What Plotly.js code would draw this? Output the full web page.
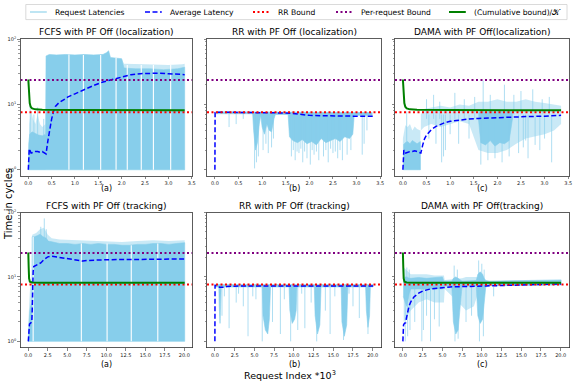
<!DOCTYPE html>
<html><head><meta charset="utf-8">
<script src="https://cdn.plot.ly/plotly-3.0.1.min.js"></script>
<style>html,body{margin:0;padding:0;background:#fff}#chart{width:581px;height:388px}</style>
</head><body><div id="chart"></div>
<script>
// ---------------- data (x in thousands of requests, y in cycles) ----------------
const panelTitles = ["FCFS with PF Off (localization)", "RR with PF Off (localization)", "DAMA with PF Off(localization)",
                     "FCFS with PF Off (tracking)", "RR with PF Off (tracking)", "DAMA with PF Off(tracking)"];
const panelLetters = ["(a)", "(b)", "(c)", "(a)", "(b)", "(c)"];
const legendNames = ["Request Latencies", "Average Latency", "RR Bound", "Per-request Bound", "(Cumulative bound)/𝒦"];
const locTickVals = [0, 0.5, 1, 1.5, 2, 2.5, 3, 3.5];
const locTickText = ["0.0", "0.5", "1.0", "1.5", "2.0", "2.5", "3.0", "3.5"];
const trkTickVals = [0, 2.5, 5, 7.5, 10, 12.5, 15, 17.5, 20];
const trkTickText = ["0.0", "2.5", "5.0", "7.5", "10.0", "12.5", "15.0", "17.5", "20.0"];
const yTickVals = [1, 10, 100];
const yTickText = ["10<sup>0</sup>", "10<sup>1</sup>", "10<sup>2</sup>"];
const yMinorVals = [2,3,4,5,6,7,8,9,20,30,40,50,60,70,80,90];

const rrBound = 7.6;
const perRequestBound = 23.5;

// (1) FCFS localization
const p1BandX  = [0, 0.01, 0.03, 0.08, 0.15, 0.22, 0.3, 0.37, 0.38, 0.45, 0.6, 0.8, 1.0, 1.2, 1.4, 1.6, 1.68, 1.72, 1.76, 1.9, 2.0, 2.05, 2.3, 2.6, 2.9, 3.2, 3.35];
const p1BandLo = [1, 1, 1, 1, 1, 1, 1, 1, 1, 1, 1, 1, 1, 1, 1, 1, 1, 1, 1, 1, 1, 1, 1, 1, 1, 1, 1];
const p1BandHi = [1.0, 2.5, 3.5, 3.8, 3.6, 3.4, 3.3, 3.5, 55, 58, 57, 58, 57, 58, 57, 58, 62, 66, 52, 51, 50, 36, 35, 35, 34, 35, 37];
const p1LightX  = [0, 0.02, 0.06, 0.1, 0.15, 0.2, 0.25, 0.3, 0.37, null, 2.0, 2.05, 2.5, 3.0, 3.3, 3.35];
const p1LightLo = [1, 1, 1, 1, 1, 1, 1, 1, 1, null, 35, 35, 35, 34, 35, 37];
const p1LightHi = [1, 5, 8, 6, 5, 7, 5, 4.5, 5, null, 50, 42, 41, 40, 41, 42];
const p1SpikeX  = [0.04, 0.12, 0.2, 0.33];
const p1SpikeLo = [3, 3, 3, 3];
const p1SpikeHi = [10, 7, 9, 6];
const p1GapX  = [0.87, 1.18, 1.55, 1.88, 2.12, 2.42, 2.68, 3.05];
const p1GapLo = [1, 1, 1, 1, 1, 1, 1, 1];
const p1GapHi = [58, 57, 57, 51, 40, 40, 40, 40];
const p1AvgX = [0, 0.005, 0.02, 0.06, 0.1, 0.15, 0.2, 0.25, 0.3, 0.35, 0.38, 0.42, 0.46, 0.5, 0.54, 0.58, 0.65, 0.75, 0.85, 1.0, 1.2, 1.4, 1.6, 1.8, 2.0, 2.2, 2.4, 2.6, 2.8, 3.0, 3.2, 3.35];
const p1AvgY = [1, 1.7, 2.1, 1.8, 1.85, 1.9, 1.9, 1.85, 1.9, 1.8, 1.75, 2.8, 4.2, 6, 7.8, 9.3, 10.5, 11.8, 13, 14.5, 17, 19.5, 22, 24, 26.5, 28.5, 29.5, 30, 30, 29.5, 29, 28.5];

// (2) RR localization
const p2BandX  = [0.02, 0.8, 0.82, 0.86, 0.9, 0.94, 0.97, 1.0, 1.05, 1.1, 1.15, 1.2, 1.25, 1.28, 1.55, 1.58, 1.65, 1.75, 1.85, 1.95, 2.05, 2.15, 2.25, 2.35, 2.45, 2.55, 2.65, 2.75, 2.85, 2.92, 2.95, 3.33];
const p2BandLo = [7.2, 7.2, 4, 2.0, 2.6, 5, 6.8, 4.5, 3.5, 5, 4, 3.8, 6, 7, 7, 3.2, 2.8, 2.6, 2.9, 2.5, 2.7, 2.4, 3, 2.6, 2.8, 3.0, 2.7, 3.2, 3.0, 3.5, 6.8, 6.8];
const p2BandHi = [7.7, 7.7, 7.7, 7.7, 7.7, 7.7, 7.7, 7.7, 7.7, 7.7, 7.7, 7.7, 7.7, 7.7, 7.7, 7.5, 7.5, 7.5, 7.5, 7.5, 7.5, 7.5, 7.5, 7.5, 7.5, 7.5, 7.5, 7.5, 7.5, 7.5, 7.5, 7.5];
const p2SpikeX  = [0.3, 0.45, 0.6, 0.84, 0.88, 0.92, 1.02, 1.08, 1.13, 1.2, 1.24, 1.62, 1.66, 1.7, 1.74, 1.78, 1.82, 1.86, 1.9, 1.95, 2.02, 2.06, 2.1, 2.15, 2.2, 2.3, 2.35, 2.4, 2.45, 2.5, 2.55, 2.6, 2.65, 2.7, 2.8, 2.88, 3.12, 3.16, 3.22];
const p2SpikeLo = [4.5, 5.0, 6.0, 1.05, 1.3, 1.6, 2.0, 2.5, 1.8, 2.2, 3.0, 1.6, 2.0, 1.4, 1.9, 1.8, 2.1, 1.3, 1.9, 1.5, 1.2, 2.0, 1.7, 1.9, 1.4, 1.6, 2.0, 1.3, 2.1, 1.8, 1.9, 1.5, 2.0, 1.4, 1.7, 2.0, 1.7, 2.5, 4.0];
const p2SpikeHi = [7.5, 7.5, 7.5, 7.5, 7.5, 7.5, 7.5, 7.5, 7.5, 7.5, 7.5, 7.5, 7.5, 7.5, 7.5, 7.5, 7.5, 7.5, 7.5, 7.5, 7.5, 7.5, 7.5, 7.5, 7.5, 7.5, 7.5, 7.5, 7.5, 7.5, 7.5, 7.5, 7.5, 7.5, 7.5, 7.5, 7.5, 7.5, 7.5];
const p2AvgX = [0, 0.004, 0.05, 0.5, 1.0, 1.4, 1.6, 1.8, 2.0, 2.3, 2.6, 3.0, 3.35];
const p2AvgY = [1, 7.5, 7.6, 7.6, 7.5, 7.4, 7.3, 7.0, 6.8, 6.7, 6.6, 6.6, 6.6];

// (3) DAMA localization
const p3BandX  = [0.01, 0.05, 0.1, 0.15, 0.2, 0.25, 0.3, 0.37, null, 1.6, 1.65, 1.75, 1.85, 1.95, 2.05, 2.15, 2.25, 2.32];
const p3BandLo = [1, 1, 1, 1, 1, 1, 1, 1, null, 6, 2.6, 2.4, 2.8, 2.3, 2.6, 2.5, 2.8, 6];
const p3BandHi = [2.4, 2.6, 2.7, 2.5, 2.8, 2.6, 2.5, 2.7, null, 7.5, 7.8, 7.6, 7.8, 7.6, 7.8, 7.6, 7.8, 7.5];
const p3LightX  = [0, 0.05, 0.1, 0.15, 0.2, 0.25, 0.3, 0.37, null, 0.38, 0.45, 0.6, 0.8, 1.0, 1.2, 1.4, 1.6, 1.8, 2.0, 2.2, 2.4, 2.6, 2.8, 3.0, 3.2, 3.35];
const p3LightLo = [1, 1, 1, 1, 1, 1, 1, 1, null, 4, 4.5, 5, 4.5, 5, 5.5, 5, 2.0, 1.8, 1.8, 2.0, 2.5, 3, 3.2, 3.5, 4, 5];
const p3LightHi = [3, 4.8, 4.5, 5, 4, 4.6, 4.2, 4.0, null, 7, 8.5, 9, 9.5, 9, 10, 9.5, 11, 11, 12, 11, 11, 12, 11, 10.5, 10, 9.5];
const p3SpikeX  = [0.08, 0.5, 0.65, 0.78, 1.1, 1.3, 1.52, 1.7, 1.85, 2.15, 2.35, 2.5, 2.75, 2.95, 3.1, 0.82, 0.86, 0.9, 1.18, 1.65, 1.8, 1.95, 2.1, 2.25, 2.45, 2.65, 2.9, 3.15, 0.55, 0.7, 1.0, 1.4, 2.55, 2.6, 2.8, 3.0];
const p3SpikeLo = [2, 6, 6, 6, 6, 6, 6, 7, 7, 7, 7, 7, 7, 7, 7, 1.3, 1.6, 2.0, 2.5, 1.2, 1.4, 1.5, 1.3, 1.6, 1.8, 1.5, 2.0, 1.3, 3.0, 2.5, 3.5, 3.0, 2.2, 2.8, 2.4, 3.0];
const p3SpikeHi = [7.8, 12, 14, 11, 15, 12, 13, 23, 14, 20, 14, 16, 17, 12, 13, 7, 7, 7, 7, 7, 7, 7, 7, 7, 7, 7, 7, 7, 7, 7, 7, 7, 7, 7, 7, 7];
const p3AvgX = [0, 0.005, 0.02, 0.06, 0.1, 0.15, 0.2, 0.25, 0.3, 0.35, 0.38, 0.42, 0.46, 0.5, 0.6, 0.7, 0.8, 0.9, 1.0, 1.2, 1.4, 1.6, 1.8, 2.0, 2.3, 2.6, 3.0, 3.35];
const p3AvgY = [1, 1.6, 2.0, 1.8, 1.85, 1.9, 1.9, 1.95, 1.9, 1.85, 1.8, 2.4, 3.0, 3.4, 4.1, 4.6, 5.0, 5.3, 5.5, 5.8, 6.0, 6.1, 6.2, 6.3, 6.4, 6.5, 6.6, 6.8];

// (4) FCFS tracking
const p4BandX  = [0, 0.1, 0.2, 0.3, 0.45, 0.5, 0.8, 1.2, 1.5, 1.9, 2.3, 2.6, 3, 3.5, 4, 5, 6, 7, 8, 9, 10, 11, 12, 13, 14, 15, 16, 17, 18, 19, 20.05];
const p4BandLo = [1, 1, 1, 1, 1, 1, 1, 1, 1, 1, 1, 1, 1, 1, 1, 1, 1, 1, 1, 1, 1, 1, 1, 1, 1, 1, 1, 1, 1, 1, 1];
const p4BandHi = [1, 2, 3, 3.5, 4, 42, 42, 44, 46, 42, 40, 36, 35, 34, 33, 33, 32, 33, 32, 33, 32, 32, 31, 31, 32, 32, 33, 33, 32, 33, 34];
const p4LightX  = [0, 0.1, 0.2, 0.3, 0.45, null, 0.5, 1, 1.5, 2, 2.5, 3, 4, 6, 8, 10, 12, 14, 16, 18, 20.05];
const p4LightLo = [1, 1, 1, 1, 1, null, 40, 40, 42, 40, 38, 34, 32, 31, 31, 31, 30, 30, 31, 31, 32];
const p4LightHi = [2, 4, 6, 8, 9, null, 45, 48, 55, 58, 45, 40, 38, 37, 36, 36, 35, 36, 37, 36, 37];
const p4SpikeX  = [1.6, 2.05, 2.3];
const p4SpikeLo = [40, 40, 40];
const p4SpikeHi = [60, 81, 55];
const p4GapX  = [0.62, 6.8, 10.1, 13.2, 16.6];
const p4GapLo = [1, 1, 1, 1, 1];
const p4GapHi = [42, 33, 33, 31, 33];
const p4AvgX = [0, 0.03, 0.08, 0.15, 0.25, 0.35, 0.45, 0.5, 0.55, 0.62, 0.7, 0.9, 1.2, 1.6, 2.0, 2.5, 3.0, 3.5, 4.0, 5.0, 6.0, 6.6, 7.0, 7.5, 8.5, 10, 12, 14, 16, 18, 20.05];
const p4AvgY = [1, 1.2, 1.7, 1.85, 1.9, 1.95, 2.0, 3.0, 7.0, 12, 14.5, 15, 15.5, 16.5, 18.5, 20.5, 21, 20.5, 20, 19, 18, 17.5, 17.6, 18, 18.3, 18.5, 18.6, 18.8, 19, 19, 19];

// (5) RR tracking
const p5BandX  = [0.05, 0.5, 0.55, 0.65, 0.75, 0.8, 6.0, 6.1, 6.4, 6.7, 6.9, 7.05, 9.4, 9.5, 9.8, 10.1, 10.3, 10.4, 12.6, 12.7, 13.0, 13.3, 13.45, 16.0, 16.1, 16.4, 16.7, 16.85, 19.1, 19.2, 19.4, 19.6, 19.7, 20.05];
const p5BandLo = [7.0, 7.0, 3.5, 1.9, 3.0, 7.0, 7.0, 2.5, 1.5, 1.3, 2.2, 7.0, 7.0, 3.0, 1.9, 2.2, 3.0, 7.0, 7.0, 2.5, 1.3, 1.8, 7.0, 7.0, 2.0, 1.2, 1.8, 7.0, 7.0, 3.0, 1.65, 2.5, 7.0, 7.0];
const p5BandHi = [7.6, 7.6, 7.6, 7.6, 7.6, 7.6, 7.6, 7.6, 7.6, 7.6, 7.6, 7.6, 7.6, 7.6, 7.6, 7.6, 7.6, 7.6, 7.6, 7.6, 7.6, 7.6, 7.6, 7.6, 7.6, 7.6, 7.6, 7.6, 7.6, 7.6, 7.6, 7.6, 7.6, 7.6];
const p5SpikeX  = [0.9, 1.8, 2.7, 3.6, 4.2, 5.2, 6.0, 7.3, 8.3, 9.6, 10.5, 11.4, 12.9, 14.0, 14.6, 16.3, 17.5, 18.3, 19.4, 1.2, 3.0, 4.8, 8.8, 11.0, 12.2, 15.2, 17.0];
const p5SpikeLo = [2.5, 1.6, 4, 3.5, 1.2, 4.5, 1.0, 2.0, 1.3, 1.0, 1.5, 1.6, 1.0, 3, 1.3, 1.05, 3.5, 2.3, 1.3, 5.0, 5.5, 5.0, 4.5, 5.5, 4.0, 5.0, 5.5];
const p5SpikeHi = [7.4, 7.4, 7.4, 7.4, 7.4, 7.4, 7.4, 7.4, 7.4, 7.4, 7.4, 7.4, 7.4, 7.4, 7.4, 7.4, 7.4, 7.4, 7.4, 7.4, 7.4, 7.4, 7.4, 7.4, 7.4, 7.4, 7.4];
const p5AvgX = [0, 0.02, 0.3, 0.6, 1.0, 1.5, 3, 6, 10, 14, 18, 20.05];
const p5AvgY = [1, 7.4, 7.3, 6.9, 6.9, 7.1, 7.2, 7.2, 7.2, 7.2, 7.2, 7.2];

// (6) DAMA tracking
const p6BandX  = [0.05, 0.3, 0.5, 0.8, 1.0, 2.0, 3.0, 4.0, 5.0, 5.2, 6.2, 6.4, 6.7, 7.0, 7.3, 7.5, 9.3, 9.5, 9.8, 10.1, 10.3, 10.5, 11, 15, 20.05];
const p6BandLo = [5.0, 4.0, 3.5, 5.5, 6.5, 6.5, 6.5, 6.5, 6.5, 7.2, 7.2, 2.0, 1.3, 1.5, 4.0, 7.2, 7.2, 2.5, 1.9, 2.2, 3.5, 7.0, 7.3, 7.4, 7.5];
const p6BandHi = [9.0, 10, 10, 9.5, 9.5, 9.8, 9.5, 9.8, 10, 8.6, 8.6, 9.5, 10, 9.5, 9, 8.6, 8.8, 11, 12, 11, 9.5, 8.8, 8.6, 8.7, 9.0];
const p6LightX  = [0.1, 1, 2, 3, 4, 5.2, 5.3, 7.5, 8, 9, 9.4];
const p6LightLo = [2, 3, 4, 4.5, 4, 4, 6.5, 3.5, 3, 3.5, 5];
const p6LightHi = [14, 11, 11, 11, 10.5, 10.5, 9, 9.5, 10, 10, 10];
const p6SpikeX  = [0.5, 0.8, 6.5, 6.9, 9.6, 10.0, 10.3, 0.3, 0.6, 0.9, 2.4, 2.6, 3.5, 4.6, 6.6, 7.0, 8.0, 8.7, 9.7, 10.2, 11.5, 1.5, 3.0, 4.0];
const p6SpikeLo = [8, 8, 8, 8, 8, 8, 8, 1.0, 1.2, 1.5, 1.0, 1.5, 1.0, 1.7, 1.0, 1.1, 2.0, 2.5, 1.0, 1.2, 5, 2.0, 2.5, 2.2];
const p6SpikeHi = [14, 13, 15, 13, 18, 16, 13, 7, 7, 7, 7, 7, 7, 7, 7, 7, 7, 7, 7, 7, 7, 7, 7, 7];
const p6AvgX = [0, 0.03, 0.08, 0.2, 0.35, 0.45, 0.6, 0.8, 1.0, 1.4, 2.0, 2.6, 3.5, 4.8, 6, 8, 10, 12, 15, 18, 20.05];
const p6AvgY = [1, 1.5, 1.8, 1.9, 1.95, 2.3, 3.0, 3.6, 4.1, 4.9, 5.6, 6.1, 6.5, 6.8, 7.0, 7.1, 7.2, 7.3, 7.4, 7.6, 7.8];

// cumulative bound / K
const locCumX = [0, 0.004, 0.01, 0.02, 0.03, 0.05, 0.08, 0.15, 0.3, 1, 2, 3.35];
const locCumY = [24, 22, 17, 12.5, 10.5, 9.2, 8.7, 8.4, 8.3, 8.2, 8.15, 8.1];
const trkCumX = [0, 0.02, 0.05, 0.1, 0.2, 0.5, 2, 20.05];
const trkCumY = [24, 22, 14, 9.5, 8.4, 8.2, 8.1, 8.1];

// ---------------- helpers ----------------
function bandPath(xs, lo, hi) {
  const X = [], Y = [];
  let seg = [];
  const flush = () => {
    if (seg.length) {
      seg.forEach(i => { X.push(xs[i]); Y.push(hi[i]); });
      for (let k = seg.length - 1; k >= 0; k--) { X.push(xs[seg[k]]); Y.push(lo[seg[k]]); }
      X.push(null); Y.push(null);
    }
    seg = [];
  };
  xs.forEach((x, i) => { if (x === null) flush(); else seg.push(i); });
  flush();
  return {X, Y};
}
function vlines(xs, lo, hi) {
  const X = [], Y = [];
  xs.forEach((x, i) => { X.push(x, x, null); Y.push(lo[i], hi[i], null); });
  return {X, Y};
}

const locRange = [-0.1675, 3.5175];
const trkRange = [-1.0, 21.05];
const yRange = [-0.0953, 2.0];

const W = 581, H = 388;
const colPx = [[20.5, 192.5], [207, 381], [395, 569]];
const rowPx = [[39, 176], [212.5, 347.5]];
const px2x = p => p / W;
const px2y = p => 1 - p / H;

const panels = [
  {band:[p1BandX,p1BandLo,p1BandHi], light:[p1LightX,p1LightLo,p1LightHi], spk:[p1SpikeX,p1SpikeLo,p1SpikeHi], gap:[p1GapX,p1GapLo,p1GapHi], avg:[p1AvgX,p1AvgY], cum:[locCumX,locCumY]},
  {band:[p2BandX,p2BandLo,p2BandHi], light:null, spk:[p2SpikeX,p2SpikeLo,p2SpikeHi], gap:null, avg:[p2AvgX,p2AvgY], cum:null},
  {band:[p3BandX,p3BandLo,p3BandHi], light:[p3LightX,p3LightLo,p3LightHi], spk:[p3SpikeX,p3SpikeLo,p3SpikeHi], gap:null, avg:[p3AvgX,p3AvgY], cum:[locCumX,locCumY]},
  {band:[p4BandX,p4BandLo,p4BandHi], light:[p4LightX,p4LightLo,p4LightHi], spk:[p4SpikeX,p4SpikeLo,p4SpikeHi], gap:[p4GapX,p4GapLo,p4GapHi], avg:[p4AvgX,p4AvgY], cum:[trkCumX,trkCumY]},
  {band:[p5BandX,p5BandLo,p5BandHi], light:null, spk:[p5SpikeX,p5SpikeLo,p5SpikeHi], gap:null, avg:[p5AvgX,p5AvgY], cum:null},
  {band:[p6BandX,p6BandLo,p6BandHi], light:[p6LightX,p6LightLo,p6LightHi], spk:[p6SpikeX,p6SpikeLo,p6SpikeHi], gap:null, avg:[p6AvgX,p6AvgY], cum:[trkCumX,trkCumY]}
];

const SKY = '#87CEEB';
const traces = [];
const layout = {
  width: W, height: H, margin: {l:0, r:0, t:0, b:0},
  paper_bgcolor: '#fff', plot_bgcolor: '#fff',
  showlegend: false,
  font: {family: 'DejaVu Sans', color: '#000'},
  annotations: [], shapes: []
};

panels.forEach((p, i) => {
  const row = i < 3 ? 0 : 1, col = i % 3, n = i + 1;
  const xa = n === 1 ? 'x' : 'x' + n, ya = n === 1 ? 'y' : 'y' + n;
  const xr = row ? trkRange : locRange;
  const common = {xaxis: xa, yaxis: ya, type: 'scatter', mode: 'lines', hoverinfo: 'skip', showlegend: false};
  if (p.light) {
    const b = bandPath(...p.light);
    traces.push({...common, x: b.X, y: b.Y, fill: 'toself', fillcolor: 'rgba(135,206,235,0.45)', line: {width: 0}});
  }
  const d = bandPath(...p.band);
  traces.push({...common, x: d.X, y: d.Y, fill: 'toself', fillcolor: SKY, line: {width: 0.6, color: SKY}});
  const s = vlines(...p.spk);
  traces.push({...common, x: s.X, y: s.Y, line: {color: 'rgba(135,206,235,0.75)', width: 0.9}});
  if (p.gap) {
    const g = vlines(...p.gap);
    traces.push({...common, x: g.X, y: g.Y, line: {color: '#ffffff', width: 1.1}});
  }
  traces.push({...common, x: p.avg[0], y: p.avg[1], line: {color: '#0000ff', width: 1.5, dash: '5px,2.5px'}});
  traces.push({...common, x: xr, y: [rrBound, rrBound], line: {color: '#ff0000', width: 2, dash: '2px,2.5px'}});
  traces.push({...common, x: xr, y: [perRequestBound, perRequestBound], line: {color: '#800080', width: 2, dash: '2px,2.5px'}});
  if (p.cum) traces.push({...common, x: p.cum[0], y: p.cum[1], line: {color: '#008000', width: 2}});

  const xd = [px2x(colPx[col][0]), px2x(colPx[col][1])];
  const yd = [px2y(rowPx[row][1]), px2y(rowPx[row][0])];
  const axLine = {showline: true, mirror: true, linecolor: '#333', linewidth: 0.8, showgrid: false, zeroline: false,
                  ticks: 'outside', tickcolor: '#333', tickwidth: 0.6, fixedrange: true};
  layout['xaxis' + (n === 1 ? '' : n)] = {...axLine, domain: xd, anchor: ya, range: xr,
    tickmode: 'array', tickvals: row ? trkTickVals : locTickVals, ticktext: row ? trkTickText : locTickText,
    ticklen: 2.5, tickfont: {size: 5, color: '#222'}};
  layout['yaxis' + (n === 1 ? '' : n)] = {...axLine, domain: yd, anchor: xa, type: 'log', range: yRange,
    tickmode: 'array', tickvals: yTickVals, ticktext: yTickText, showticklabels: col === 0,
    ticklen: 2.5, tickfont: {size: 5, color: '#222'},
    minor: {tickmode: 'array', tickvals: yMinorVals, ticks: 'outside', ticklen: 1.5, tickcolor: '#333', tickwidth: 0.5}};

  const cx = px2x((colPx[col][0] + colPx[col][1]) / 2);
  layout.annotations.push({xref: 'paper', yref: 'paper', x: cx, y: px2y(row ? 206 : 32), text: panelTitles[i],
    showarrow: false, xanchor: 'center', yanchor: 'middle', font: {size: 9, family: 'DejaVu Sans', color: '#000'}});
  layout.annotations.push({xref: 'paper', yref: 'paper', x: cx, y: px2y(row ? 364 : 188), text: panelLetters[i],
    showarrow: false, xanchor: 'center', yanchor: 'middle', font: {size: 8, family: 'DejaVu Sans', color: '#000'}});
});

layout.annotations.push({xref: 'paper', yref: 'paper', x: px2x(8), y: px2y(204), text: 'Time in cycles', textangle: -90,
  showarrow: false, xanchor: 'center', yanchor: 'middle', font: {size: 10, family: 'DejaVu Sans', color: '#000'}});
layout.annotations.push({xref: 'paper', yref: 'paper', x: px2x(290), y: px2y(375), text: 'Request Index *10<sup>3</sup>',
  showarrow: false, xanchor: 'center', yanchor: 'middle', font: {size: 9.5, family: 'DejaVu Sans', color: '#000'}});

// legend (drawn manually to match the compact layout)
const legStart = [30, 145, 253, 336, 449];
const legStyles = [
  {color: '#a9dcef', width: 1.5, dash: 'solid'},
  {color: '#0000ff', width: 1.5, dash: '5px,2.5px'},
  {color: '#ff0000', width: 2, dash: '2px,2.5px'},
  {color: '#800080', width: 2, dash: '2px,2.5px'},
  {color: '#008000', width: 2, dash: 'solid'}
];
layout.shapes.push({type: 'rect', xref: 'paper', yref: 'paper', x0: px2x(25.8), x1: px2x(567), y0: px2y(19.6), y1: px2y(4.5),
  line: {color: '#d0d0d0', width: 0.8}, fillcolor: 'rgba(255,255,255,0.8)'});
legendNames.forEach((name, k) => {
  layout.shapes.push({type: 'line', xref: 'paper', yref: 'paper', x0: px2x(legStart[k]), x1: px2x(legStart[k] + 16.8),
    y0: px2y(12), y1: px2y(12), line: legStyles[k]});
  layout.annotations.push({xref: 'paper', yref: 'paper', x: px2x(legStart[k] + 22.5), y: px2y(12), text: name,
    showarrow: false, xanchor: 'left', yanchor: 'middle', font: {size: 7.6, family: 'DejaVu Sans', color: '#000'}});
});

Plotly.newPlot('chart', traces, layout, {staticPlot: true, displayModeBar: false});
</script></body></html>
